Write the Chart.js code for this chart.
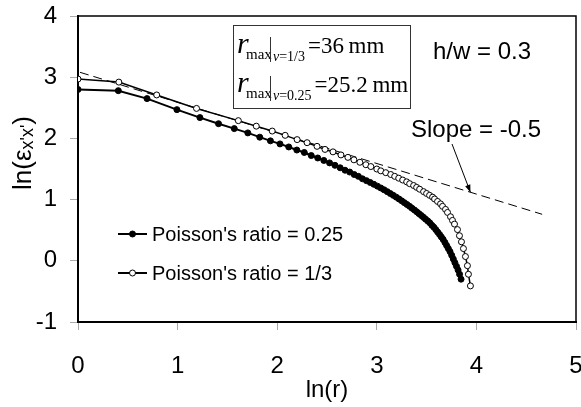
<!DOCTYPE html>
<html>
<head>
<meta charset="utf-8">
<script src="https://cdn.jsdelivr.net/npm/chart.js@4.4.1/dist/chart.umd.min.js"></script>
<style>
  html, body { margin: 0; padding: 0; background: #fff; }
  #wrap { width: 581px; height: 407px; }
</style>
</head>
<body>
<div id="wrap"><canvas id="strainChart" width="581" height="407"></canvas></div>
<script>
// ln(r) and ln(strain) for Poisson's ratio = 0.25 (filled markers)
const lnR025 = [0, 0.405, 0.693, 0.993, 1.224, 1.411, 1.569, 1.705, 1.825, 1.932, 2.028, 2.116, 2.197,
  2.272, 2.342, 2.407, 2.468, 2.526, 2.580, 2.632, 2.681, 2.728, 2.773, 2.815, 2.856, 2.896, 2.934,
  2.970, 3.006, 3.040, 3.073, 3.105, 3.135, 3.165, 3.195, 3.223, 3.250, 3.277, 3.303, 3.329, 3.353,
  3.378, 3.401, 3.424, 3.447, 3.469, 3.490, 3.512, 3.532, 3.553, 3.572, 3.592, 3.611, 3.630, 3.648,
  3.666, 3.684, 3.701, 3.718, 3.735, 3.752, 3.768, 3.784, 3.800, 3.816, 3.831, 3.846];
const lnE025 = [2.80, 2.78, 2.65, 2.47, 2.34, 2.24, 2.16, 2.09, 2.02, 1.96, 1.91, 1.86, 1.81,
  1.77, 1.72, 1.68, 1.64, 1.60, 1.56, 1.52, 1.48, 1.45, 1.41, 1.38, 1.34, 1.31, 1.28,
  1.25, 1.22, 1.19, 1.16, 1.13, 1.10, 1.07, 1.04, 1.01, 0.98, 0.95, 0.92, 0.89, 0.86,
  0.83, 0.80, 0.77, 0.74, 0.71, 0.68, 0.65, 0.62, 0.58, 0.55, 0.51, 0.47, 0.43, 0.39,
  0.35, 0.30, 0.25, 0.20, 0.15, 0.09, 0.03, -0.03, -0.09, -0.15, -0.22, -0.30];

// ln(r) and ln(strain) for Poisson's ratio = 1/3 (open markers)
const lnR033 = [0, 0.41, 0.79, 1.19, 1.61, 1.79, 1.95, 2.08, 2.20, 2.30, 2.40, 2.48, 2.56, 2.64,
  2.71, 2.77, 2.83, 2.89, 2.94, 3.00, 3.04, 3.09, 3.14, 3.18, 3.22, 3.26, 3.30, 3.33, 3.37, 3.40,
  3.43, 3.47, 3.50, 3.53, 3.56, 3.58, 3.61, 3.64, 3.66, 3.69, 3.71, 3.74, 3.76, 3.78, 3.81, 3.83,
  3.85, 3.87, 3.89, 3.91, 3.92, 3.94];
const lnE033 = [2.97, 2.92, 2.71, 2.49, 2.29, 2.20, 2.12, 2.05, 1.98, 1.93, 1.87, 1.82, 1.78, 1.73,
  1.69, 1.65, 1.61, 1.57, 1.54, 1.50, 1.47, 1.44, 1.41, 1.38, 1.35, 1.32, 1.29, 1.26, 1.23, 1.20,
  1.17, 1.13, 1.10, 1.07, 1.04, 1.01, 0.97, 0.93, 0.89, 0.84, 0.79, 0.72, 0.66, 0.60, 0.51, 0.41,
  0.31, 0.20, 0.07, -0.08, -0.22, -0.41];

// reference line with slope -0.5
const slopeX = [0.02, 4.66];
const slopeY = [3.08, 0.76];

const xTicks = [0, 1, 2, 3, 4, 5];
const yTicks = [-1, 0, 1, 2, 3, 4];

const sans = '"Liberation Sans", Arial, sans-serif';
const serif = '"Liberation Serif", "Times New Roman", serif';

function toPoints(xs, ys) {
  return xs.map((x, i) => ({ x: x, y: ys[i] }));
}

// frame, legend, labels and the r_max box
const decorations = {
  id: 'decorations',
  afterDatasetsDraw(chart) {
    const ctx = chart.ctx;
    const area = chart.chartArea;
    const xs = chart.scales.x;
    const ys = chart.scales.y;
    ctx.save();

    // top and right frame
    ctx.strokeStyle = '#000';
    ctx.lineWidth = 1.5;
    ctx.beginPath();
    ctx.moveTo(area.left, area.top);
    ctx.lineTo(area.right, area.top);
    ctx.lineTo(area.right, area.bottom);
    ctx.stroke();

    // legend
    const legendRows = [
      { y: 234, text: "Poisson's ratio = 0.25", fill: '#000' },
      { y: 273, text: "Poisson's ratio = 1/3", fill: '#fff' }
    ];
    legendRows.forEach((row) => {
      ctx.strokeStyle = '#000';
      ctx.lineWidth = 2;
      ctx.beginPath();
      ctx.moveTo(118, row.y);
      ctx.lineTo(147, row.y);
      ctx.stroke();
      ctx.beginPath();
      ctx.arc(132.5, row.y, 3, 0, Math.PI * 2);
      ctx.fillStyle = row.fill;
      ctx.fill();
      ctx.lineWidth = 1;
      ctx.stroke();
      ctx.fillStyle = '#000';
      ctx.font = '20px ' + sans;
      ctx.textAlign = 'left';
      ctx.textBaseline = 'middle';
      ctx.fillText(row.text, 152, row.y + 1);
    });

    // annotations
    ctx.font = '24px ' + sans;
    ctx.textBaseline = 'alphabetic';
    ctx.fillText('h/w = 0.3', 433, 59);
    ctx.fillText('Slope = -0.5', 411, 137);

    // arrow to the slope line
    const tipX = xs.getPixelForValue(3.94);
    const tipY = ys.getPixelForValue(1.12);
    const startX = 452, startY = 144;
    const ang = Math.atan2(tipY - startY, tipX - startX);
    ctx.lineWidth = 1;
    ctx.beginPath();
    ctx.moveTo(startX, startY);
    ctx.lineTo(tipX, tipY);
    ctx.stroke();
    ctx.beginPath();
    ctx.moveTo(tipX, tipY);
    ctx.lineTo(tipX - 8 * Math.cos(ang - 0.35), tipY - 8 * Math.sin(ang - 0.35));
    ctx.lineTo(tipX - 8 * Math.cos(ang + 0.35), tipY - 8 * Math.sin(ang + 0.35));
    ctx.closePath();
    ctx.fill();

    // r_max box
    ctx.fillStyle = '#fff';
    ctx.fillRect(233.5, 25.5, 177, 83);
    ctx.strokeStyle = '#333';
    ctx.lineWidth = 1;
    ctx.strokeRect(233.5, 25.5, 177, 83);
    ctx.fillStyle = '#000';
    const boxRows = [
      { base: 53, nu: '=1/3', value: '=36\u2009mm' },
      { base: 92, nu: '=0.25', value: '=25.2\u2009mm' }
    ];
    boxRows.forEach((row) => {
      ctx.font = 'italic 30px ' + serif;
      ctx.fillText('r', 237, row.base);
      ctx.font = '15px ' + serif;
      ctx.fillText('max', 246, row.base + 6);
      ctx.beginPath();
      ctx.moveTo(270.5, row.base - 16);
      ctx.lineTo(270.5, row.base + 9);
      ctx.stroke();
      ctx.font = 'italic 14px ' + serif;
      ctx.fillText('\u03bd', 273, row.base + 8);
      const nuW = ctx.measureText('\u03bd').width;
      ctx.font = '14px ' + serif;
      ctx.fillText(row.nu, 273 + nuW, row.base + 8);
      const nuEnd = 273 + nuW + ctx.measureText(row.nu).width;
      ctx.font = '23px ' + serif;
      ctx.fillText(row.value, nuEnd + 3, row.base);
    });

    // y axis title: ln(e_x'x')
    ctx.translate(31, 153);
    ctx.rotate(-Math.PI / 2);
    const big = '26px ' + sans;
    const small = '18px ' + sans;
    ctx.font = big;
    const w1 = ctx.measureText('ln(\u03b5').width;
    const w3 = ctx.measureText(')').width;
    ctx.font = small;
    const w2 = ctx.measureText("x'x'").width;
    let px = -(w1 + w2 + w3) / 2;
    ctx.font = big;
    ctx.fillText('ln(\u03b5', px, 0);
    px += w1;
    ctx.font = small;
    ctx.fillText("x'x'", px, 2);
    px += w2;
    ctx.font = big;
    ctx.fillText(')', px, 0);

    ctx.restore();
  }
};

const ctx = document.getElementById('strainChart').getContext('2d');
new Chart(ctx, {
  type: 'scatter',
  data: {
    datasets: [
      {
        label: "Poisson's ratio = 0.25",
        data: toPoints(lnR025, lnE025),
        showLine: true,
        borderColor: '#000',
        borderWidth: 2,
        pointRadius: 3,
        pointBackgroundColor: '#000',
        pointBorderColor: '#000',
        pointBorderWidth: 1,
      },
      {
        label: "Poisson's ratio = 1/3",
        data: toPoints(lnR033, lnE033),
        showLine: true,
        borderColor: '#000',
        borderWidth: 1.5,
        pointRadius: 3,
        pointBackgroundColor: '#fff',
        pointBorderColor: '#000',
        pointBorderWidth: 1,
      },
      {
        label: 'Slope = -0.5',
        data: toPoints(slopeX, slopeY),
        showLine: true,
        borderColor: '#000',
        borderWidth: 1,
        borderDash: [9, 5],
        pointRadius: 0,
      },
    ],
  },
  options: {
    responsive: false,
    animation: false,
    devicePixelRatio: 1,
    layout: { padding: { left: 0, right: 5, top: 16, bottom: 0 } },
    plugins: {
      legend: { display: false },
      tooltip: { enabled: false },
    },
    scales: {
      x: {
        type: 'linear',
        min: 0,
        max: 5,
        afterBuildTicks: (scale) => { scale.ticks = xTicks.map((v) => ({ value: v })); },
        afterFit: (scale) => {
          scale.height = 85;
          scale.paddingLeft = 0;
          scale.paddingRight = 0;
        },
        ticks: { color: '#000', font: { family: sans, size: 24 }, padding: 22, maxRotation: 0 },
        grid: { drawOnChartArea: false, drawTicks: true, tickLength: 8, color: '#aaa' },
        border: { color: '#000', width: 2 },
        title: {
          display: true,
          text: 'ln(r)',
          color: '#000',
          font: { family: sans, size: 24 },
          padding: { top: 0, bottom: 2 },
        },
      },
      y: {
        type: 'linear',
        min: -1,
        max: 4,
        afterBuildTicks: (scale) => { scale.ticks = yTicks.map((v) => ({ value: v })); },
        afterFit: (scale) => {
          scale.width = 78;
          scale.paddingTop = 0;
          scale.paddingBottom = 0;
        },
        ticks: { color: '#000', font: { family: sans, size: 24 }, padding: 13 },
        grid: { drawOnChartArea: false, drawTicks: true, tickLength: 8, color: '#aaa' },
        border: { color: '#000', width: 2 },
      },
    },
  },
  plugins: [decorations],
});
</script>
</body>
</html>
